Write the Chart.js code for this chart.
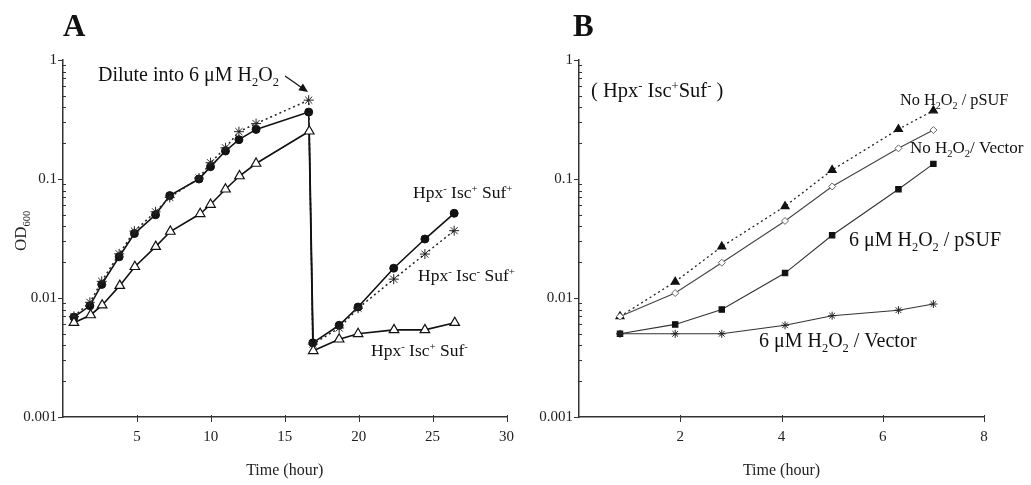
<!DOCTYPE html>
<html><head><meta charset="utf-8">
<script src="https://cdn.jsdelivr.net/npm/chart.js@4.4.1/dist/chart.umd.min.js"></script>
<style>
html,body{margin:0;padding:0;background:#fff;}
#wrap{position:relative;width:1031px;height:485px;overflow:hidden;}
#ca{position:absolute;left:0;top:0;}
#cb{position:absolute;left:520px;top:0;}
</style></head><body>
<div id="wrap">
<canvas id="ca" width="520" height="485"></canvas>
<canvas id="cb" width="511" height="485"></canvas>
</div>
<script>
// ---------- Panel A data ----------
const timeA = [0.74,1.82,2.62,3.8,4.83,6.26,7.22,9.2,9.98,10.99,11.9,13.06,16.62,16.9,18.68,19.96,22.37,24.48,26.46];
const odA_IscPlusSufPlus  = [0.0069,0.0086,0.0130,0.0222,0.0348,0.0500,0.0725,0.100,0.127,0.172,0.214,0.261,0.365,0.0042,0.0059,0.0084,0.0178,0.0313,0.0515];
const odA_IscMinusSufPlus = [0.0070,0.0092,0.0138,0.0235,0.0365,0.0530,0.0700,0.102,0.137,0.183,0.250,0.292,0.460,0.0041,0.0056,0.0082,0.0144,0.0234,0.0368];
const timeA3 = [0.74,1.87,2.65,3.84,4.86,6.27,7.26,9.28,9.98,10.99,11.94,13.06,16.66,16.93,18.68,19.96,22.39,24.48,26.5];
const odA_IscPlusSufMinus = [0.0062,0.0072,0.0087,0.0127,0.0183,0.027,0.0362,0.0510,0.0610,0.0820,0.106,0.135,0.252,0.0036,0.0045,0.0050,0.0054,0.0054,0.0062];
const xTicksA = [0,5,10,15,20,25,30];

// ---------- Panel B data ----------
const timeB = [0.81,1.9,2.82,4.07,5.0,6.31,7.0];
const odB_NoH2O2_pSUF   = [0.0070,0.0137,0.027,0.059,0.119,0.262,0.376];
const odB_NoH2O2_Vector = [0.0070,0.0110,0.0198,0.0444,0.0865,0.181,0.258];
const odB_H2O2_pSUF     = [0.0050,0.0060,0.0080,0.0162,0.0337,0.082,0.134];
const odB_H2O2_Vector   = [0.0050,0.0050,0.0050,0.0059,0.0071,0.0079,0.0089];
const xTicksB = [0,2,4,6,8];

// ---------- shared y axis ----------
const yTickLabels = ['0.001','0.01','0.1','1'];
const yMinorSignificands = [1,2,3,4,5,6,7,8,9];

const FONT = '"Liberation Serif", "Times New Roman", serif';

function pts(xs, ys){ return xs.map((x,i)=>({x:x, y:ys[i]})); }
function isMajor(v){ const e=Math.log10(v); return Math.abs(e-Math.round(e))<1e-9; }

function drawRich(ctx, x, y, parts, size, color, measureOnly){
  let cx = x;
  for (const [t,k] of parts){
    const s = k==='n' ? size : size*0.62;
    ctx.font = s + 'px ' + FONT;
    const dy = k==='sub' ? size*0.24 : (k==='sup' ? -size*0.36 : 0);
    if(!measureOnly){ ctx.fillStyle=color; ctx.fillText(t, cx, y+dy); }
    cx += ctx.measureText(t).width;
  }
  return cx - x;
}

function makeOptions(xmax, xTicks, yWidth, padRight){
  return {
    responsive:false, animation:false,
    layout:{padding:{top:60,left:0,right:padRight,bottom:0}},
    plugins:{legend:{display:false}, tooltip:{enabled:false}},
    elements:{line:{tension:0}},
    scales:{
      x:{type:'linear', min:0, max:xmax,
        afterBuildTicks:(s)=>{ s.ticks = xTicks.map(v=>({value:v})); },
        afterFit:(s)=>{ s.height = 68; },
        grid:{display:true, drawOnChartArea:false, drawTicks:true, tickLength:5, color:'rgba(0,0,0,0)'},
        border:{display:true, color:'#333', width:1.5},
        ticks:{autoSkip:false, maxRotation:0, padding:6, color:'#222', font:{family:FONT, size:15},
          callback:(v)=> v===0 ? '' : String(v)},
        title:{display:true, text:'Time (hour)', color:'#222', font:{family:FONT, size:16}, padding:{top:0,bottom:5}}
      },
      y:{type:'logarithmic', min:0.001, max:1,
        afterBuildTicks:(s)=>{
          const t=[];
          for(let e=-3;e<0;e++) for(const m of yMinorSignificands) t.push({value:+(m*Math.pow(10,e)).toPrecision(6)});
          t.push({value:1});
          s.ticks=t;
        },
        afterFit:(s)=>{ s.width = yWidth; },
        grid:{display:true, drawOnChartArea:false, drawTicks:true, tickLength:5, color:'rgba(0,0,0,0)'},
        border:{display:true, color:'#333', width:1.5},
        ticks:{autoSkip:false, padding:1, color:'#222', font:{family:FONT, size:15},
          callback:(v)=> isMajor(v) ? yTickLabels[Math.round(Math.log10(v))+3] : ''}
      }
    }
  };
}

const tickPlugin = {
  id:'customTicks',
  afterDraw(chart){
    const ctx=chart.ctx, x=chart.scales.x, y=chart.scales.y, a=chart.chartArea;
    ctx.save(); ctx.strokeStyle='#333'; ctx.lineWidth=1;
    for(const t of y.ticks){
      const py=Math.round(y.getPixelForValue(t.value))+0.5;
      ctx.beginPath();
      if(isMajor(t.value)){ ctx.moveTo(a.left-5,py); ctx.lineTo(a.left,py); }
      else { ctx.moveTo(a.left,py); ctx.lineTo(a.left+3,py); }
      ctx.stroke();
    }
    for(const t of x.ticks){
      if(t.value===0) continue;
      const px=Math.round(x.getPixelForValue(t.value))+0.5;
      ctx.beginPath(); ctx.moveTo(px,a.bottom-2); ctx.lineTo(px,a.bottom+5); ctx.stroke();
    }
    ctx.restore();
  }
};

function labelPlugin(items, extra){
  return {
    id:'labels',
    afterDraw(chart){
      const ctx=chart.ctx;
      ctx.save(); ctx.textBaseline='alphabetic'; ctx.textAlign='left';
      for(const it of items){
        if(it.bold){ ctx.font='bold '+it.size+'px '+FONT; ctx.fillStyle='#111'; ctx.fillText(it.parts[0][0], it.x, it.y); }
        else drawRich(ctx, it.x, it.y, it.parts, it.size, '#111');
      }
      if(extra) extra(ctx);
      ctx.restore();
    }
  };
}

// ---------- Chart A ----------
const labelsA = [
  {x:63, y:36, size:31, bold:true, parts:[['A','n']]},
  {x:98, y:81, size:20, parts:[['Dilute into 6 \u03bcM H','n'],['2','sub'],['O','n'],['2','sub']]},
  {x:413, y:198, size:17.5, parts:[['Hpx','n'],['-','sup'],[' Isc','n'],['+','sup'],[' Suf','n'],['+','sup']]},
  {x:418, y:281, size:17.5, parts:[['Hpx','n'],['-','sup'],[' Isc','n'],['-','sup'],[' Suf','n'],['+','sup']]},
  {x:371, y:356, size:17.5, parts:[['Hpx','n'],['-','sup'],[' Isc','n'],['+','sup'],[' Suf','n'],['-','sup']]}
];
function extraA(ctx){
  // arrow
  const x0=285,y0=76,x1=308,y1=92;
  ctx.strokeStyle='#111'; ctx.fillStyle='#111'; ctx.lineWidth=1.2;
  ctx.beginPath(); ctx.moveTo(x0,y0); ctx.lineTo(x1-4,y1-2.8); ctx.stroke();
  const ang=Math.atan2(y1-y0,x1-x0), L=9, W=4;
  ctx.beginPath(); ctx.moveTo(x1,y1);
  ctx.lineTo(x1-L*Math.cos(ang)+W*Math.sin(ang), y1-L*Math.sin(ang)-W*Math.cos(ang));
  ctx.lineTo(x1-L*Math.cos(ang)-W*Math.sin(ang), y1-L*Math.sin(ang)+W*Math.cos(ang));
  ctx.closePath(); ctx.fill();
  // OD600 rotated
  ctx.save(); ctx.translate(26,251); ctx.rotate(-Math.PI/2);
  drawRich(ctx,0,0,[['OD','n'],['600','sub']],17,'#222');
  ctx.restore();
}

new Chart(document.getElementById('ca'), {
  type:'line',
  data:{datasets:[
    {label:'Hpx- Isc+ Suf-', data:pts(timeA3, odA_IscPlusSufMinus), borderColor:'#111', borderWidth:1.6,
     pointStyle:'triangle', pointRadius:5.5, pointBackgroundColor:'#fff', pointBorderColor:'#111', pointBorderWidth:1.2},
    {label:'Hpx- Isc- Suf+', data:pts(timeA, odA_IscMinusSufPlus), borderColor:'#222', borderWidth:1.5, borderDash:[2,3],
     pointStyle:'star', pointRadius:5, pointBorderColor:'#222', pointBorderWidth:1},
    {label:'Hpx- Isc+ Suf+', data:pts(timeA, odA_IscPlusSufPlus), borderColor:'#111', borderWidth:1.6,
     pointStyle:'circle', pointRadius:4, pointBackgroundColor:'#111', pointBorderColor:'#111', pointBorderWidth:1}
  ]},
  options:makeOptions(30, xTicksA, 63, 12),
  plugins:[tickPlugin, labelPlugin(labelsA, extraA)]
});

// ---------- Chart B ----------
const labelsB = [
  {x:53, y:36, size:31, bold:true, parts:[['B','n']]},
  {x:71, y:97, size:20.5, parts:[['( Hpx','n'],['-','sup'],[' Isc','n'],['+','sup'],['Suf','n'],['-','sup'],[' )','n']]},
  {x:380, y:105, size:16.3, parts:[['No H','n'],['2','sub'],['O','n'],['2','sub'],[' / pSUF','n']]},
  {x:390, y:153, size:17, parts:[['No H','n'],['2','sub'],['O','n'],['2','sub'],['/ Vector','n']]},
  {x:329, y:246, size:20, parts:[['6 \u03bcM H','n'],['2','sub'],['O','n'],['2','sub'],[' / pSUF','n']]},
  {x:239, y:347, size:20, parts:[['6 \u03bcM H','n'],['2','sub'],['O','n'],['2','sub'],[' / Vector','n']]}
];

new Chart(document.getElementById('cb'), {
  type:'line',
  data:{datasets:[
    {label:'6 uM H2O2 / Vector', data:pts(timeB, odB_H2O2_Vector), borderColor:'#333', borderWidth:1.1,
     pointStyle:'star', pointRadius:4, pointBorderColor:'#222', pointBorderWidth:1},
    {label:'6 uM H2O2 / pSUF', data:pts(timeB, odB_H2O2_pSUF), borderColor:'#333', borderWidth:1.1,
     pointStyle:'rect', pointRadius:3.8, pointBackgroundColor:'#111', pointBorderColor:'#111'},
    {label:'No H2O2 / Vector', data:pts(timeB, odB_NoH2O2_Vector), borderColor:'#444', borderWidth:1.1,
     pointStyle:'rectRot', pointRadius:3.5, pointBackgroundColor:'#fff', pointBorderColor:'#666', pointBorderWidth:1},
    {label:'No H2O2 / pSUF', data:pts(timeB, odB_NoH2O2_pSUF), borderColor:'#222', borderWidth:1.3, borderDash:[2,3],
     pointStyle:'triangle', pointRadius:4.5, pointBackgroundColor:'#111', pointBorderColor:'#111'}
  ]},
  options:makeOptions(8, xTicksB, 59, 47),
  plugins:[tickPlugin, labelPlugin(labelsB)]
});
</script>
</body></html>
